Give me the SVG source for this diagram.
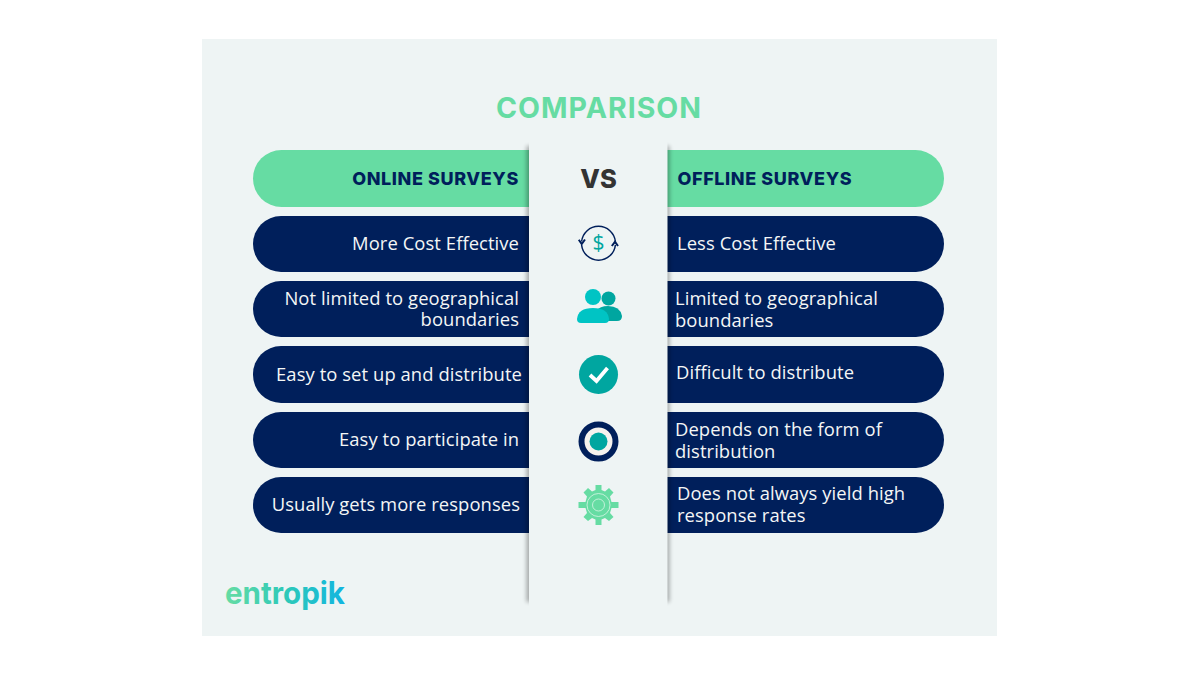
<svg xmlns="http://www.w3.org/2000/svg" width="1200" height="675" viewBox="0 0 1200 675">
<defs>
<style>
.navy{fill:#001f5b}
.mint{fill:#66dca3}
.b{font-family:"Open Sans","Lato",sans-serif;font-size:18.400px;letter-spacing:0.08px;fill:#f4f6f6}
.h{font-family:"Inter","Open Sans",sans-serif;font-weight:800;font-size:18px;letter-spacing:0.6px;fill:#001f5b}
.e{text-anchor:end}
</style>
<linearGradient id="logo" x1="0" x2="1" y1="0" y2="0"><stop offset="0" stop-color="#66dca3"/><stop offset="0.5" stop-color="#2ec9b8"/><stop offset="1" stop-color="#12b5e0"/></linearGradient>
<filter id="blur" x="-200%" width="500%" y="-5%" height="110%"><feGaussianBlur stdDeviation="2"/></filter>
</defs>
<rect width="1200" height="675" fill="#fff"/>
<rect x="202" y="39" width="795" height="597" fill="#eef4f4"/>
<text x="599" y="118" text-anchor="middle" font-family="'Inter','Open Sans',sans-serif" font-weight="700" font-size="28.500" letter-spacing="1" fill="#66dca3">COMPARISON</text>

<g id="row-header-left"><rect class="mint" x="253" y="150" width="340" height="57" rx="28.5"/><text class="h e" x="519" y="185">ONLINE SURVEYS</text></g>
<g id="row-1-left"><rect class="navy" x="253" y="216" width="340" height="56" rx="28"/><text class="b e" x="519" y="250">More Cost Effective</text></g>
<g id="row-2-left"><rect class="navy" x="253" y="281" width="340" height="56" rx="28"/><text class="b e"><tspan x="519" y="305">Not limited to geographical</tspan><tspan x="519" y="326">boundaries</tspan></text></g>
<g id="row-3-left"><rect class="navy" x="253" y="346" width="340" height="57" rx="28"/><text class="b e" x="522" y="381">Easy to set up and distribute</text></g>
<g id="row-4-left"><rect class="navy" x="253" y="412" width="340" height="56" rx="28"/><text class="b e" x="519" y="446">Easy to participate in</text></g>
<g id="row-5-left"><rect class="navy" x="253" y="477" width="340" height="56" rx="28"/><text class="b e" x="520" y="511">Usually gets more responses</text></g>

<g id="row-header-right"><rect class="mint" x="604" y="150" width="340" height="57" rx="28.5"/><text class="h" x="677.500" y="185">OFFLINE SURVEYS</text></g>
<g id="row-1-right"><rect class="navy" x="604" y="216" width="340" height="56" rx="28"/><text class="b" x="677" y="250">Less Cost Effective</text></g>
<g id="row-2-right"><rect class="navy" x="604" y="281" width="340" height="56" rx="28"/><text class="b"><tspan x="675" y="305">Limited to geographical</tspan><tspan x="675" y="327">boundaries</tspan></text></g>
<g id="row-3-right"><rect class="navy" x="604" y="346" width="340" height="57" rx="28"/><text class="b" x="676" y="379">Difficult to distribute</text></g>
<g id="row-4-right"><rect class="navy" x="604" y="412" width="340" height="56" rx="28"/><text class="b"><tspan x="675" y="436">Depends on the form of</tspan><tspan x="675" y="458">distribution</tspan></text></g>
<g id="row-5-right"><rect class="navy" x="604" y="477" width="340" height="56" rx="28"/><text class="b"><tspan x="677" y="500">Does not always yield high</tspan><tspan x="677" y="522">response rates</tspan></text></g>

<g id="divider">
<rect x="526.500" y="146" width="143" height="456" fill="#000" opacity="0.3" filter="url(#blur)"/>
<rect x="529" y="140" width="138.500" height="470" fill="#eef4f4"/>
</g>
<text x="598.500" y="188" text-anchor="middle" font-family="'Inter','Open Sans',sans-serif" font-weight="800" font-size="25.500" fill="#333">VS</text>

<g id="icon-cost">
<path d="M581.600 241.500 A17 17 0 0 1 615.400 241.500 M615.400 245 A17 17 0 0 1 581.600 245" fill="none" stroke="#001f5b" stroke-width="1.500"/>
<path d="M578.800 239.800 L581.700 244 L585 239.500 M611.800 246 L615 241.800 L618 246" fill="none" stroke="#001f5b" stroke-width="2"/>
<text x="598.500" y="250" text-anchor="middle" font-family="'Open Sans',sans-serif" font-size="21" fill="#00a6a0">$</text>
</g>
<g id="icon-people">
<circle cx="608.500" cy="298.500" r="7" fill="#00a6a0"/>
<path d="M600 321 H617 Q622 321 622 316 Q620 306 608 306 Q600 306 596 311Z" fill="#00a6a0"/>
<circle cx="593" cy="297" r="8" fill="#00c4c4"/>
<path d="M581 323 Q577 323 577 319 Q578 308 593 308 Q608 308 609 319 Q609 323 605 323Z" fill="#00c4c4"/>
</g>
<g id="icon-check">
<circle cx="598.500" cy="374.500" r="19.500" fill="#00a6a0"/>
<path d="M590 375 L596.500 381 L607.500 368" fill="none" stroke="#fff" stroke-width="3.800"/>
</g>
<g id="icon-target">
<circle cx="598.500" cy="441.500" r="17" fill="#f5f2ee" stroke="#001f5b" stroke-width="6"/>
<circle cx="598.500" cy="441.500" r="9" fill="#00a6a0"/>
</g>
<g id="icon-gear">
<path d="M595.500 485 H601.500 V490 L605 491.500 L609 488 L613.500 492.500 L610 496.500 L611.500 502 H618.500 V508 H611.500 L610 513 L613.500 517 L609 521 L605 518 L601.500 519.500 V525 H595.500 V519.500 L592 518 L588 521 L583.500 517 L587 513 L585.500 508 H578.500 V502 H585.500 L587 496.500 L583.500 492.500 L588 488 L592 491.500 L595.500 490Z" fill="#66dca3"/>
<circle cx="598.500" cy="505" r="11.500" fill="none" stroke="#d8f5e6" stroke-width="0.800"/>
<circle cx="598.500" cy="505" r="6" fill="none" stroke="#d8f5e6" stroke-width="0.800"/>
</g>
<text id="logo-text" x="225" y="604" font-family="'Inter','Open Sans',sans-serif" font-weight="700" font-size="31" textLength="120" lengthAdjust="spacingAndGlyphs" fill="url(#logo)">entropik</text>
</svg>
